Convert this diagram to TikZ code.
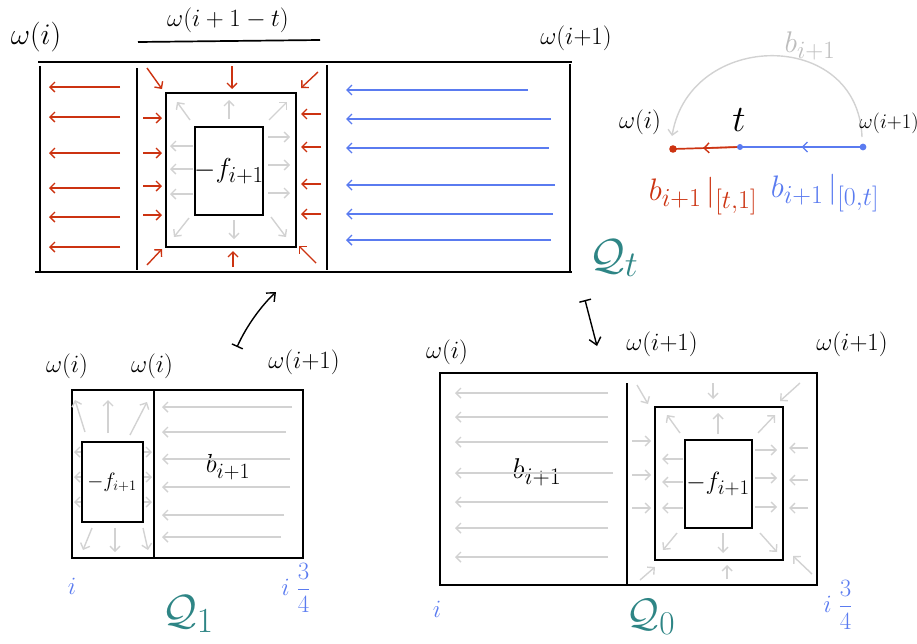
\documentclass[tikz,border=0pt]{standalone}
\usetikzlibrary{arrows.meta,calc}
\definecolor{redA}{HTML}{CC3311}
\definecolor{blueA}{HTML}{5A7BF0}
\definecolor{greyA}{HTML}{D2D2D2}
\definecolor{greyB}{HTML}{BDBDBD}
\definecolor{tealA}{HTML}{2E8585}
\newcommand{\sk}[2]{\scalebox{#1}{$#2$}}
\begin{document}
\begin{tikzpicture}[x=1pt,y=-1pt,
  box/.style={draw=black,line width=2.2pt},
  fld/.style={line width=1.4pt,-{Straight Barb[length=5pt,width=10pt,line width=1.4pt]}},
  redf/.style={fld,draw=redA},
  bluef/.style={fld,draw=blueA},
  greyf/.style={fld,draw=greyA},
  lbl/.style={font=\Huge,inner sep=0pt},
  qlbl/.style={font=\Huge,text=tealA,inner sep=0pt},
  blbl/.style={font=\Huge,text=blueA,inner sep=0pt},
  panelarrow/.style={line width=1.4pt,{Bar[width=12pt,line width=1.4pt]}-{Straight Barb[length=7pt,width=12pt,line width=1.4pt]}}
]
\useasboundingbox (0,0) rectangle (917,643);

% ================= Top panel Q_t =================
\draw[box] (38,62) -- (572,62);
\draw[box] (35,272) -- (572,272);
\draw[box] (40,66) -- (40,272);
\draw[box] (570,64) -- (570,272);
\draw[box] (137,68) -- (137,270);
\draw[box] (327,65) -- (327,270);
\draw[box] (166,93) rectangle (296,247);
\draw[box] (195,127) rectangle (263,215);
\node[lbl] (ftop) at (229,171) {\sk{1.1}{-f_{i+1}}};

% red arrows, left region
\foreach \y in {87,117,153,188,217,247} \draw[redf] (120,\y) -- (49,\y);
% red arrows into middle box
\foreach \y in {118,153,186,215} \draw[redf] (143,\y) -- (162,\y);
\foreach \y in {114,147,184,214} \draw[redf] (321,\y) -- (301,\y);
\draw[redf] (232,66) -- (232,89);
\draw[redf] (233,267) -- (233,251);
\draw[redf] (147,68) -- (162,89);
\draw[redf] (318,72) -- (301,88);
\draw[redf] (147,265) -- (162,249);
\draw[redf] (316,263) -- (299,246);
% grey arrows in middle ring (outwards)
\draw[greyf] (190,120) -- (177,102);
\draw[greyf] (229,119) -- (229,100);
\draw[greyf] (269,120) -- (287,102);
\foreach \y in {146,169,194} \draw[greyf] (193,\y) -- (170,\y);
\foreach \y in {137,165,193} \draw[greyf] (268,\y) -- (290,\y);
\draw[greyf] (189,218) -- (174,237);
\draw[greyf] (234,220) -- (234,239);
\draw[greyf] (271,217) -- (286,237);
% blue arrows right region
\foreach \y/\xs in {90/528,119/551,148/549,185/555,214/553,240/551} \draw[bluef] (\xs,\y) -- (346,\y);

\node[lbl] (wi) at (36,37) {\sk{1.2}{\omega(i)}};
\node[lbl] (wmid) at (228,20) {$\omega(i+1-t)$};
\draw[line width=1.7pt] (138,42) -- (320,40);
\node[lbl] (wip) at (576,38) {$\omega(i{+}1)$};
\node[qlbl] (Qt) at (614,258) {\sk{1.75}{\mathcal{Q}_t}};

% ================= Top-right schematic =================
\coordinate (rdot) at (673,149);
\coordinate (tdot) at (740,147);
\coordinate (bdot) at (863,147);
\draw[redA,line width=1.7pt] (tdot) -- (rdot);
\draw[redA,fld] (tdot) -- ($(tdot)!0.55!(rdot)$);
\draw[blueA,line width=1.4pt] (bdot) -- (tdot);
\draw[blueA,fld] (bdot) -- ($(bdot)!0.5!(tdot)$);
\fill[redA] (rdot) circle (3.8pt);
\fill[blueA] (tdot) circle (3pt);
\fill[blueA] (bdot) circle (3.4pt);
\coordinate (arcS) at (862,137);
\coordinate (arcE) at (672,136);
\draw[greyA,fld] (arcS) .. controls (858,28) and (690,30) .. (arcE);
\node[lbl,text=greyB] (bgrey) at (810,46) {\sk{1.2}{b_{i+1}}};
\node[lbl] (wis) at (640,122) {$\omega(i)$};
\node[lbl] (tl) at (739,120) {\sk{1.5}{t}};
\node[font=\huge,inner sep=0pt] (wips) at (889,123) {$\omega(i{+}1)$};
\node[lbl,text=redA] (bred) at (703,196) {\sk{1.25}{b_{i+1}\,|_{[t,1]}}};
\node[lbl,text=blueA] (bblue) at (825,193) {\sk{1.25}{b_{i+1}\,|_{[0,t]}}};

% ================= panel arrows =================
\coordinate (pa1) at (237,347);
\coordinate (pa2) at (276,292);
\draw[panelarrow] (pa1) .. controls (247,325) and (262,305) .. (pa2);
\coordinate (pb1) at (585,300);
\coordinate (pb2) at (597,346);
\draw[panelarrow] (pb1) -- (pb2);

% ================= Bottom-left Q_1 =================
\draw[box] (72,390) rectangle (303,558);
\draw[box] (154,390) -- (154,558);
\draw[box] (82,442) rectangle (143,522);
\node[font=\huge,inner sep=0pt] (f1) at (112,482) {$-f_{i+1}$};
\node[lbl] (b1) at (228,467) {\sk{1.05}{b_{i+1}}};
\foreach \y/\xs in {407/292,432/286,459/290,487/290,515/284,537/281} \draw[greyf] (\xs,\y) -- (162,\y);
\draw[greyf] (85,432) -- (75,400);
\draw[greyf] (108,433) -- (108,400);
\draw[greyf] (130,435) -- (147,402);
\draw[greyf] (92,528) -- (83,550);
\draw[greyf] (115,528) -- (115,552);
\draw[greyf] (143,528) -- (148,550);
\foreach \y in {452,477,502} {\draw[greyf] (81,\y) -- (74,\y); \draw[greyf] (144,\y) -- (152,\y);}
\node[lbl] (w1a) at (67,366) {$\omega(i)$};
\node[lbl] (w1b) at (152,366) {$\omega(i)$};
\node[lbl] (w1c) at (304,362) {$\omega(i{+}1)$};
\node[blbl] (i1a) at (72,586) {$i$};
\node[blbl] (i1b) at (296,588) {$i\;{\displaystyle\frac{3}{4}}$};
\node[qlbl] (Q1) at (188,614) {\sk{1.7}{\mathcal{Q}_1}};

% ================= Bottom-right Q_0 =================
\draw[box] (440,373) rectangle (817,585);
\draw[box] (627,383) -- (627,585);
\draw[box] (655,407) rectangle (783,560);
\draw[box] (685,440) rectangle (752,528);
\node[lbl] (f0) at (718,484) {$-f_{i+1}$};
\node[lbl] (b0) at (537,472) {\sk{1.15}{b_{i+1}}};
\foreach \y/\xs in {393/608,417/608,442/608,473/613,502/608,528/608,557/608} \draw[greyf] (\xs,\y) -- (455,\y);
% inward arrows outer ring
\foreach \y in {441,475,508} \draw[greyf] (632,\y) -- (651,\y);
\foreach \y in {448,480,508} \draw[greyf] (808,\y) -- (789,\y);
\draw[greyf] (713,383) -- (713,399);
\draw[greyf] (637,385) -- (648,404);
\draw[greyf] (800,383) -- (780,401);
\draw[greyf] (727,579) -- (727,565);
\draw[greyf] (640,580) -- (655,567);
\draw[greyf] (812,574) -- (793,556);
% outward arrows middle ring
\draw[greyf] (718,434) -- (718,413);
\draw[greyf] (680,433) -- (667,415);
\draw[greyf] (758,433) -- (775,415);
\foreach \y in {459,482,508} \draw[greyf] (683,\y) -- (662,\y);
\foreach \y in {450,478,507} \draw[greyf] (755,\y) -- (777,\y);
\draw[greyf] (723,533) -- (723,553);
\draw[greyf] (677,533) -- (663,550);
\draw[greyf] (760,533) -- (777,552);
\node[lbl] (w0a) at (447,352) {$\omega(i)$};
\node[lbl] (w0b) at (662,344) {$\omega(i{+}1)$};
\node[lbl] (w0c) at (852,344) {$\omega(i{+}1)$};
\node[blbl] (i0a) at (437,609) {$i$};
\node[blbl] (i0b) at (838,605) {$i\;{\displaystyle\frac{3}{4}}$};
\node[qlbl] (Q0) at (651,617) {\sk{1.6}{\mathcal{Q}_0}};
\end{tikzpicture}
\end{document}
